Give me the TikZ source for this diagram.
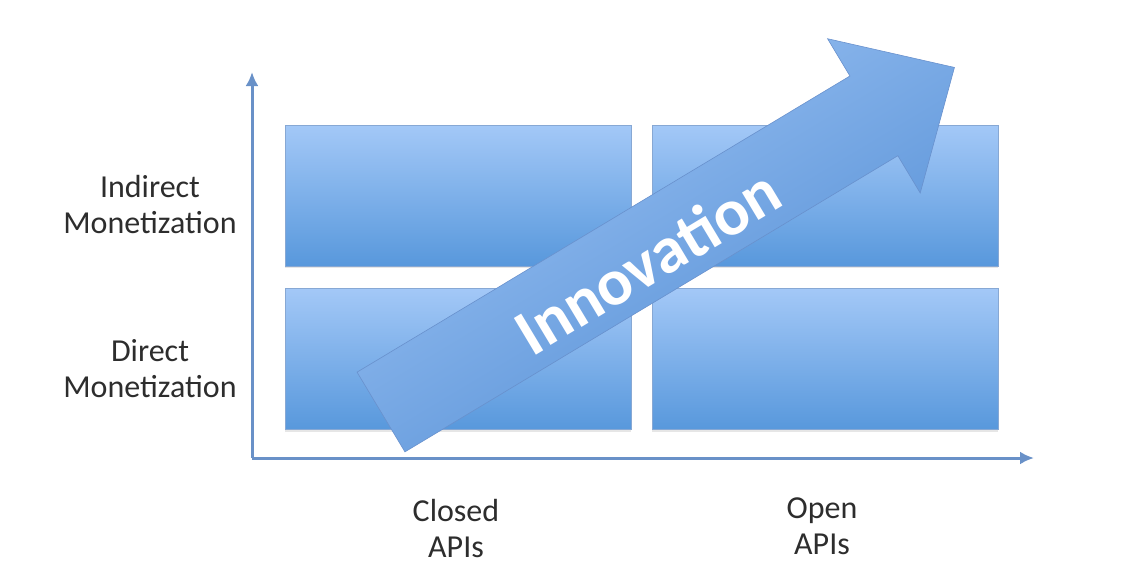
\documentclass[tikz,border=0pt]{standalone}
\usepackage{fontspec}
\setmainfont{Carlito}
\usepackage{tikz}
\usetikzlibrary{arrows.meta, shadows}
\definecolor{cboxtop}{RGB}{163,200,247}
\definecolor{cboxbot}{RGB}{88,152,220}
\definecolor{cedge}{RGB}{135,168,212}
\definecolor{caxis}{RGB}{105,145,200}
\definecolor{ctext}{RGB}{45,45,45}
\definecolor{carrowtop}{RGB}{158,196,244}
\definecolor{carrowbot}{RGB}{80,140,212}
\definecolor{carrowedge}{RGB}{105,145,205}
\tikzset{
Cell/.style={
	draw=cedge, line width=0.8pt,
	top color=cboxtop, bottom color=cboxbot,
	minimum width=346pt, minimum height=141pt,
	inner sep=0pt,
	drop shadow={opacity=0.2, shadow xshift=0pt, shadow yshift=-2pt}
},
Axis/.style={
	draw=caxis, line width=3pt,
	-{Latex[length=14pt,width=13pt]}
},
AxisLabel/.style={
	align=center, text=ctext,
	font=\fontsize{32}{36}\selectfont
},
BigArrow/.style={
	draw=carrowedge, line width=0.6pt,
	top color=carrowtop, bottom color=carrowbot,
	shading angle=31
},
ArrowText/.style={
	text=white, rotate=31,
	font=\bfseries\fontsize{66}{66}\selectfont
}
}

\begin{document}
\begin{tikzpicture}[x=1pt, y=-1pt]
	\useasboundingbox (0,0) rectangle (1135,586);

	% quadrants
	\node[Cell] (IC) at (458,195.5) {};
	\node[Cell] (IO) at (825,195.5) {};
	\node[Cell] (DC) at (458,359) {};
	\node[Cell] (DO) at (825,359) {};

	% axes
	\coordinate (origin) at (252,458);
	\coordinate (ytop) at (252,72);
	\coordinate (xend) at (1034,458);
	\draw[Axis] (origin) -- (ytop);
	\draw[Axis] (origin) -- (xend);

	% innovation arrow
	\begin{scope}[shift={(381,412)}, rotate=31]
		\shade[BigArrow] (0,-46.5) -- (575,-46.5) -- (575,-90) -- (669,0)
			-- (575,90) -- (575,46.5) -- (0,46.5) -- cycle;
		\node[ArrowText] (innov) at (306,8) {Innovation};
	\end{scope}

	\node[AxisLabel] (indirect) at (150,205) {Indirect\\Monetization};
	\node[AxisLabel] (direct) at (150,369) {Direct\\Monetization};
	\node[AxisLabel] (closed) at (456,529) {Closed\\APIs};
	\node[AxisLabel] (open) at (822,526) {Open\\APIs};
\end{tikzpicture}
\end{document}
